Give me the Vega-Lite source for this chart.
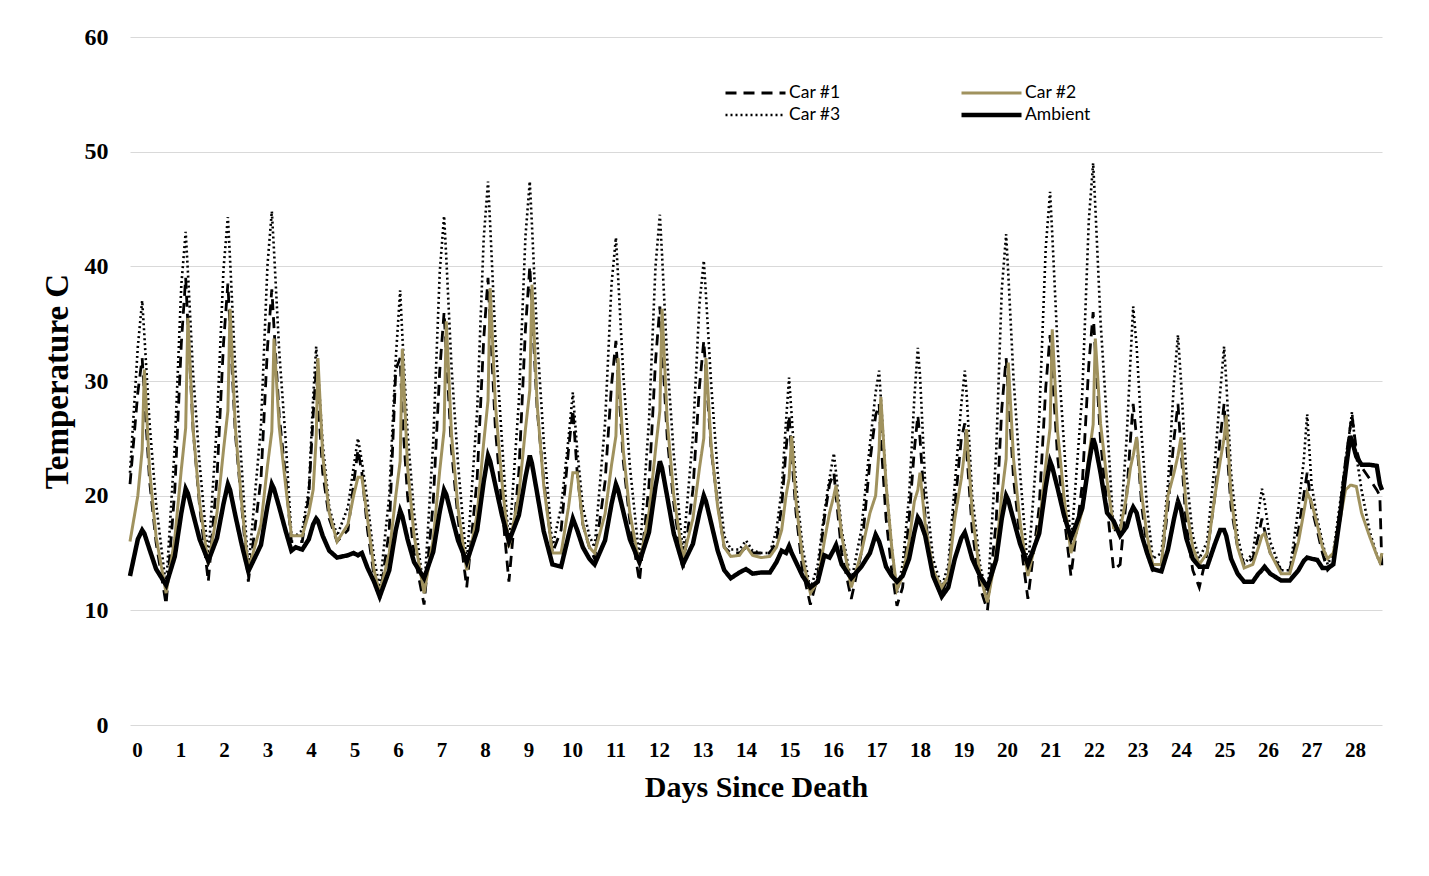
{
"$schema": "https://vega.github.io/schema/vega-lite/v6.json",
"width": 1252, "height": 688,
"autosize": {"type": "none"},
"padding": {"left": 130, "top": 37, "right": 47, "bottom": 151},
"background": "white",
"config": {"view": {"stroke": null}},
"data": {"values": [
{"d":-0.16,"c1":21,"c2":16,"c3":22,"a":13},
{"d":0.02,"c1":29,"c2":20,"c3":33,"a":16.2},
{"d":0.12,"c1":32,"c2":24,"c3":37,"a":17},
{"d":0.17,"c1":28.8,"c2":31,"c3":34,"a":16.7},
{"d":0.29,"c1":21.3,"c2":22.2,"c3":26.3,"a":15.3},
{"d":0.44,"c1":15.9,"c2":16.4,"c3":19.3,"a":13.6},
{"d":0.67,"c1":10.5,"c2":11.5,"c3":12,"a":12.2},
{"d":0.87,"c1":20.5,"c2":16.3,"c3":24.4,"a":14.7},
{"d":1.02,"c1":33.3,"c2":22.3,"c3":38.4,"a":18.5},
{"d":1.12,"c1":39,"c2":25.9,"c3":43,"a":20.6},
{"d":1.17,"c1":35,"c2":35.5,"c3":39.6,"a":20.2},
{"d":1.29,"c1":25.8,"c2":25.8,"c3":30.7,"a":18.4},
{"d":1.44,"c1":19.1,"c2":19.4,"c3":22.8,"a":16.2},
{"d":1.64,"c1":12.5,"c2":14,"c3":14.5,"a":14.3},
{"d":1.84,"c1":21.6,"c2":18.5,"c3":26.4,"a":16.3},
{"d":1.99,"c1":33.3,"c2":24,"c3":39.8,"a":19.3},
{"d":2.09,"c1":38.5,"c2":27.4,"c3":44.3,"a":21},
{"d":2.14,"c1":34.6,"c2":36.3,"c3":40.6,"a":20.5},
{"d":2.26,"c1":25.5,"c2":26,"c3":31.1,"a":18.3},
{"d":2.41,"c1":19,"c2":19.2,"c3":22.4,"a":15.7},
{"d":2.56,"c1":12.5,"c2":13.5,"c3":13.5,"a":13.4},
{"d":2.85,"c1":21.4,"c2":17.5,"c3":26,"a":15.7},
{"d":3.0,"c1":32.9,"c2":22.6,"c3":40.1,"a":19.1},
{"d":3.1,"c1":38,"c2":25.6,"c3":44.8,"a":21},
{"d":3.15,"c1":34.7,"c2":33.7,"c3":41.4,"a":20.6},
{"d":3.27,"c1":27,"c2":26,"c3":32.6,"a":19},
{"d":3.42,"c1":21.5,"c2":20.8,"c3":24.7,"a":16.9},
{"d":3.55,"c1":16,"c2":16.5,"c3":16.5,"a":15.2},
{"d":3.65,"c1":16,"c2":16.5,"c3":16.5,"a":15.5},
{"d":3.8,"c1":16,"c2":16.5,"c3":17,"a":15.3},
{"d":3.95,"c1":20,"c2":18.5,"c3":20.5,"a":16.2},
{"d":4.05,"c1":27,"c2":20.5,"c3":28.5,"a":17.5},
{"d":4.12,"c1":31,"c2":25,"c3":33,"a":18},
{"d":4.16,"c1":28.5,"c2":32,"c3":31,"a":17.8},
{"d":4.27,"c1":22,"c2":23.5,"c3":24.5,"a":16.5},
{"d":4.42,"c1":18,"c2":18.5,"c3":19,"a":15.2},
{"d":4.6,"c1":16,"c2":16,"c3":16.5,"a":14.6},
{"d":4.85,"c1":17,"c2":17.5,"c3":19,"a":14.8},
{"d":4.98,"c1":21,"c2":20,"c3":22.5,"a":15},
{"d":5.08,"c1":24,"c2":21.6,"c3":25,"a":14.8},
{"d":5.17,"c1":22,"c2":21.6,"c3":23,"a":15},
{"d":5.3,"c1":17,"c2":18,"c3":19.5,"a":13.7},
{"d":5.45,"c1":13,"c2":13.5,"c3":14.5,"a":12.5},
{"d":5.58,"c1":11,"c2":11.5,"c3":12,"a":11.2},
{"d":5.8,"c1":17,"c2":15,"c3":20,"a":13.5},
{"d":5.95,"c1":31,"c2":20,"c3":32,"a":17},
{"d":6.05,"c1":32,"c2":23,"c3":37.9,"a":18.7},
{"d":6.1,"c1":27,"c2":32.8,"c3":34,"a":18.2},
{"d":6.22,"c1":20,"c2":22.5,"c3":25.5,"a":16.2},
{"d":6.37,"c1":15,"c2":16.5,"c3":18.5,"a":14.2},
{"d":6.6,"c1":10.5,"c2":11.5,"c3":11.5,"a":12.8},
{"d":6.81,"c1":19.4,"c2":16.2,"c3":24.7,"a":15.1},
{"d":6.96,"c1":30.9,"c2":22.2,"c3":39.5,"a":18.6},
{"d":7.06,"c1":36,"c2":25.7,"c3":44.4,"a":20.5},
{"d":7.11,"c1":32.4,"c2":35.2,"c3":40.8,"a":20.1},
{"d":7.23,"c1":24,"c2":25.4,"c3":31.3,"a":18.3},
{"d":7.38,"c1":18,"c2":18.9,"c3":22.8,"a":16.1},
{"d":7.58,"c1":12,"c2":13.5,"c3":14,"a":14.2},
{"d":7.82,"c1":21.5,"c2":18.4,"c3":27.4,"a":17},
{"d":7.97,"c1":33.6,"c2":24.6,"c3":42.4,"a":21.2},
{"d":8.07,"c1":39,"c2":28.3,"c3":47.4,"a":23.5},
{"d":8.12,"c1":35,"c2":38.1,"c3":43.6,"a":23},
{"d":8.24,"c1":25.8,"c2":27.9,"c3":33.7,"a":20.9},
{"d":8.39,"c1":19.1,"c2":21.2,"c3":24.8,"a":18.3},
{"d":8.55,"c1":12.5,"c2":15.5,"c3":15.5,"a":16},
{"d":8.78,"c1":22.1,"c2":20.1,"c3":28.3,"a":18.3},
{"d":8.93,"c1":34.5,"c2":25.8,"c3":42.6,"a":21.6},
{"d":9.03,"c1":40,"c2":29.2,"c3":47.4,"a":23.5},
{"d":9.08,"c1":36.3,"c2":38.4,"c3":43.6,"a":22.8},
{"d":9.2,"c1":27.5,"c2":27.9,"c3":33.7,"a":20.2},
{"d":9.35,"c1":21.3,"c2":20.9,"c3":24.8,"a":16.9},
{"d":9.55,"c1":15,"c2":15,"c3":15.5,"a":14},
{"d":9.75,"c1":17,"c2":15,"c3":19,"a":13.8},
{"d":9.92,"c1":24,"c2":19,"c3":25,"a":16.5},
{"d":10.02,"c1":27.5,"c2":22,"c3":29,"a":18},
{"d":10.12,"c1":22,"c2":22,"c3":24,"a":17},
{"d":10.25,"c1":17.5,"c2":17.5,"c3":19,"a":15.5},
{"d":10.4,"c1":15.5,"c2":15.5,"c3":16.5,"a":14.5},
{"d":10.52,"c1":14.5,"c2":15,"c3":15.5,"a":14},
{"d":10.76,"c1":21.2,"c2":18.4,"c3":26.3,"a":16.1},
{"d":10.91,"c1":29.7,"c2":22.7,"c3":38.5,"a":19.3},
{"d":11.01,"c1":33.5,"c2":25.2,"c3":42.5,"a":21},
{"d":11.06,"c1":30.4,"c2":32,"c3":39.1,"a":20.5},
{"d":11.18,"c1":23,"c2":23.9,"c3":30.5,"a":18.6},
{"d":11.33,"c1":17.8,"c2":18.5,"c3":22.6,"a":16.2},
{"d":11.55,"c1":12.5,"c2":14,"c3":14.5,"a":14.2},
{"d":11.77,"c1":20.9,"c2":18.5,"c3":26.5,"a":16.8},
{"d":11.92,"c1":31.7,"c2":24,"c3":40,"a":20.8},
{"d":12.02,"c1":36.5,"c2":27.4,"c3":44.5,"a":23},
{"d":12.07,"c1":33.1,"c2":36.3,"c3":41,"a":22.4},
{"d":12.19,"c1":25,"c2":26.5,"c3":31.8,"a":19.9},
{"d":12.34,"c1":19.3,"c2":20,"c3":23.6,"a":16.7},
{"d":12.55,"c1":13.5,"c2":14.5,"c3":15,"a":14},
{"d":12.78,"c1":20.5,"c2":18,"c3":25.2,"a":15.8},
{"d":12.93,"c1":29.5,"c2":22.4,"c3":36.7,"a":18.5},
{"d":13.03,"c1":33.5,"c2":25,"c3":40.5,"a":20},
{"d":13.08,"c1":30.7,"c2":32,"c3":37.5,"a":19.5},
{"d":13.2,"c1":24,"c2":24.3,"c3":29.7,"a":17.6},
{"d":13.35,"c1":19.3,"c2":19,"c3":22,"a":15.2},
{"d":13.5,"c1":15.5,"c2":15.5,"c3":16.5,"a":13.5},
{"d":13.65,"c1":15,"c2":14.7,"c3":15.3,"a":12.8},
{"d":13.85,"c1":15,"c2":14.8,"c3":15.3,"a":13.3},
{"d":14.0,"c1":15.5,"c2":15.6,"c3":16.1,"a":13.6},
{"d":14.15,"c1":15,"c2":14.8,"c3":15.2,"a":13.2},
{"d":14.35,"c1":15,"c2":14.6,"c3":15,"a":13.3},
{"d":14.55,"c1":15,"c2":14.7,"c3":15,"a":13.3},
{"d":14.7,"c1":16,"c2":15.5,"c3":17,"a":14.2},
{"d":14.82,"c1":19,"c2":17,"c3":20.5,"a":15.2},
{"d":14.92,"c1":24,"c2":20,"c3":26.5,"a":15},
{"d":14.99,"c1":27,"c2":21.5,"c3":30.3,"a":15.6},
{"d":15.05,"c1":23.5,"c2":25.2,"c3":27,"a":15},
{"d":15.15,"c1":18.5,"c2":19.5,"c3":21,"a":14.2},
{"d":15.3,"c1":13.5,"c2":14.5,"c3":15.5,"a":13},
{"d":15.48,"c1":10.5,"c2":11.5,"c3":11.8,"a":12},
{"d":15.65,"c1":13,"c2":12.5,"c3":14,"a":12.5},
{"d":15.8,"c1":18,"c2":16,"c3":18.5,"a":14.8},
{"d":15.92,"c1":21,"c2":18.5,"c3":21.5,"a":14.6},
{"d":16.02,"c1":22,"c2":20,"c3":23.7,"a":15.3},
{"d":16.07,"c1":20,"c2":20.9,"c3":22,"a":15.7},
{"d":16.2,"c1":15,"c2":16.5,"c3":17,"a":14},
{"d":16.42,"c1":11,"c2":12,"c3":12.5,"a":12.8},
{"d":16.65,"c1":15,"c2":15,"c3":17,"a":13.8},
{"d":16.85,"c1":23,"c2":18.5,"c3":24.5,"a":15},
{"d":16.98,"c1":27,"c2":20,"c3":29,"a":16.6},
{"d":17.06,"c1":28,"c2":24,"c3":30.9,"a":16},
{"d":17.1,"c1":25,"c2":28.6,"c3":28.5,"a":15.5},
{"d":17.22,"c1":18,"c2":21,"c3":21,"a":13.8},
{"d":17.35,"c1":13.5,"c2":15.5,"c3":15.5,"a":13},
{"d":17.47,"c1":10.4,"c2":11.8,"c3":11.5,"a":12.5},
{"d":17.6,"c1":12,"c2":13,"c3":14,"a":13},
{"d":17.75,"c1":18,"c2":16,"c3":20,"a":14.5},
{"d":17.87,"c1":24,"c2":19.5,"c3":28.5,"a":16.8},
{"d":17.95,"c1":27,"c2":20.5,"c3":32.9,"a":18.1},
{"d":18.0,"c1":25,"c2":22,"c3":30.5,"a":17.8},
{"d":18.12,"c1":18,"c2":17.5,"c3":21,"a":16.5},
{"d":18.3,"c1":13,"c2":13.5,"c3":14.5,"a":13},
{"d":18.5,"c1":11.5,"c2":12,"c3":12,"a":11.2},
{"d":18.65,"c1":13,"c2":13,"c3":14,"a":12},
{"d":18.8,"c1":19,"c2":18,"c3":21,"a":14.5},
{"d":18.95,"c1":25,"c2":21.5,"c3":28,"a":16.3},
{"d":19.03,"c1":26.3,"c2":24,"c3":30.9,"a":16.8},
{"d":19.07,"c1":24,"c2":25.8,"c3":29,"a":16.3},
{"d":19.2,"c1":17,"c2":18.5,"c3":20,"a":14.5},
{"d":19.38,"c1":12,"c2":13,"c3":14,"a":13},
{"d":19.55,"c1":10,"c2":10.7,"c3":11,"a":12},
{"d":19.75,"c1":17.7,"c2":14.9,"c3":23.7,"a":14.4},
{"d":19.88,"c1":27.6,"c2":20.1,"c3":38,"a":18},
{"d":19.98,"c1":32,"c2":23.2,"c3":42.8,"a":20},
{"d":20.03,"c1":28.9,"c2":31.6,"c3":39.3,"a":19.6},
{"d":20.15,"c1":21.5,"c2":23.2,"c3":30.2,"a":17.9},
{"d":20.3,"c1":16.3,"c2":17.7,"c3":22,"a":15.8},
{"d":20.48,"c1":11,"c2":13,"c3":13.5,"a":14},
{"d":20.74,"c1":19,"c2":17.3,"c3":26.7,"a":16.7},
{"d":20.89,"c1":29.4,"c2":22.7,"c3":41.6,"a":20.8},
{"d":20.99,"c1":34,"c2":25.9,"c3":46.5,"a":23},
{"d":21.04,"c1":30.9,"c2":34.5,"c3":42.8,"a":22.5},
{"d":21.16,"c1":23.5,"c2":25.7,"c3":33.2,"a":20.7},
{"d":21.31,"c1":18.3,"c2":19.9,"c3":24.5,"a":18.3},
{"d":21.47,"c1":13,"c2":15,"c3":15.5,"a":16.3},
{"d":21.73,"c1":21,"c2":18.7,"c3":28.9,"a":18.9},
{"d":21.88,"c1":31.4,"c2":23.4,"c3":44,"a":22.8},
{"d":21.98,"c1":36,"c2":26.2,"c3":49,"a":25},
{"d":22.03,"c1":32.6,"c2":33.7,"c3":45.2,"a":24.4},
{"d":22.15,"c1":24.8,"c2":26.3,"c3":35.2,"a":22},
{"d":22.3,"c1":19.1,"c2":21.3,"c3":26.3,"a":18.5},
{"d":22.45,"c1":13.5,"c2":17.2,"c3":17,"a":17.8},
{"d":22.6,"c1":14,"c2":17,"c3":17,"a":16.5},
{"d":22.75,"c1":20,"c2":20,"c3":25,"a":17.3},
{"d":22.84,"c1":25,"c2":22.5,"c3":32,"a":18.5},
{"d":22.9,"c1":28,"c2":23.5,"c3":36.5,"a":19},
{"d":22.98,"c1":25,"c2":25.1,"c3":33,"a":18.5},
{"d":23.1,"c1":19,"c2":20,"c3":25,"a":16.5},
{"d":23.22,"c1":15.5,"c2":16.5,"c3":19,"a":15},
{"d":23.35,"c1":13.5,"c2":14,"c3":14.5,"a":13.6},
{"d":23.55,"c1":14,"c2":14,"c3":15,"a":13.4},
{"d":23.7,"c1":19,"c2":20,"c3":21,"a":15.3},
{"d":23.84,"c1":25,"c2":22,"c3":30,"a":18},
{"d":23.93,"c1":28,"c2":23.5,"c3":34,"a":19.5},
{"d":24.0,"c1":24,"c2":25.1,"c3":30,"a":18.8},
{"d":24.12,"c1":17.5,"c2":19,"c3":22,"a":16.3},
{"d":24.27,"c1":13.5,"c2":15.5,"c3":16.5,"a":14.5},
{"d":24.42,"c1":12,"c2":14,"c3":14.5,"a":13.8},
{"d":24.6,"c1":15,"c2":15,"c3":16,"a":13.8},
{"d":24.78,"c1":20,"c2":20,"c3":23,"a":15.8},
{"d":24.9,"c1":25,"c2":23,"c3":29,"a":17},
{"d":24.99,"c1":28,"c2":25,"c3":33,"a":17},
{"d":25.04,"c1":25,"c2":27,"c3":30,"a":16.5},
{"d":25.15,"c1":19,"c2":20,"c3":22,"a":14.5},
{"d":25.3,"c1":15.5,"c2":15.5,"c3":16.5,"a":13.2},
{"d":25.45,"c1":14,"c2":13.7,"c3":14,"a":12.5},
{"d":25.65,"c1":14.5,"c2":14,"c3":15,"a":12.5},
{"d":25.78,"c1":16.5,"c2":15.5,"c3":18.5,"a":13.2},
{"d":25.86,"c1":18,"c2":16.5,"c3":20.6,"a":13.5},
{"d":25.92,"c1":17,"c2":16.7,"c3":19.5,"a":13.8},
{"d":26.05,"c1":15,"c2":15,"c3":16,"a":13.2},
{"d":26.3,"c1":13.5,"c2":13.2,"c3":13.5,"a":12.6},
{"d":26.5,"c1":13.5,"c2":13.2,"c3":13.5,"a":12.6},
{"d":26.7,"c1":17,"c2":16,"c3":19,"a":13.5},
{"d":26.82,"c1":20,"c2":18.5,"c3":23,"a":14.3},
{"d":26.9,"c1":22,"c2":20.3,"c3":27.1,"a":14.6},
{"d":27.0,"c1":19,"c2":19.4,"c3":21,"a":14.5},
{"d":27.13,"c1":17,"c2":17.5,"c3":18,"a":14.4},
{"d":27.25,"c1":15,"c2":15.5,"c3":16,"a":13.7},
{"d":27.37,"c1":13.5,"c2":14.5,"c3":14,"a":13.7},
{"d":27.5,"c1":14,"c2":15,"c3":15,"a":14},
{"d":27.66,"c1":19,"c2":18,"c3":19.5,"a":18.3},
{"d":27.78,"c1":23,"c2":20.5,"c3":23,"a":22},
{"d":27.89,"c1":26,"c2":20.9,"c3":26,"a":25.2},
{"d":27.93,"c1":27,"c2":20.9,"c3":27.3,"a":24.8},
{"d":28.03,"c1":24,"c2":20.8,"c3":23.5,"a":23.4},
{"d":28.15,"c1":22.5,"c2":18.5,"c3":20.5,"a":22.7},
{"d":28.33,"c1":21.5,"c2":16.5,"c3":17,"a":22.7},
{"d":28.5,"c1":20.5,"c2":14.8,"c3":14.8,"a":22.6},
{"d":28.57,"c1":20,"c2":14.2,"c3":14.2,"a":21},
{"d":28.62,"c1":13.5,"c2":15,"c3":14.5,"a":20.5}
]},
"transform": [{"fold": ["c1", "c2", "c3", "a"], "as": ["s", "t"]}],
"encoding": {
  "x": {"field": "d", "type": "quantitative",
    "scale": {"domain": [-0.16, 28.62], "nice": false, "zero": false},
    "axis": {"values": [0,1,2,3,4,5,6,7,8,9,10,11,12,13,14,15,16,17,18,19,20,21,22,23,24,25,26,27,28],
      "title": "Days Since Death", "grid": false, "domain": false, "ticks": false,
      "labelFont": "Liberation Serif", "labelFontWeight": "bold", "labelFontSize": 21, "labelColor": "#000000",
      "labelPadding": 14, "labelFlush": false, "labelOverlap": false,
      "titleFont": "Liberation Serif", "titleFontWeight": "bold", "titleFontSize": 30, "titleColor": "#000000", "titlePadding": 12}},
  "y": {"field": "t", "type": "quantitative",
    "scale": {"domain": [0, 60], "nice": false},
    "axis": {"values": [0,10,20,30,40,50,60], "title": "Temperature C", "grid": true, "gridColor": "#d9d9d9", "gridWidth": 1.2,
      "domain": false, "ticks": false,
      "labelFont": "Liberation Serif", "labelFontWeight": "bold", "labelFontSize": 24, "labelColor": "#000000", "labelPadding": 22,
      "titleFont": "Liberation Serif", "titleFontWeight": "bold", "titleFontSize": 33, "titleColor": "#000000", "titlePadding": 10}},
  "stroke": {"field": "s", "type": "nominal",
    "scale": {"domain": ["c1", "c3", "c2", "a"], "range": ["#000000", "#000000", "#a0925e", "#000000"]},
    "legend": {"title": null, "orient": "none", "legendX": 593, "legendY": 47, "columns": 2, "symbolType": "stroke", "symbolSize": 3600, "clipHeight": 18,
      "labelFont": "Lato", "labelFontSize": 17.5, "labelColor": "#000000", "labelOffset": 1, "columnPadding": 118, "rowPadding": 4,
      "labelExpr": "datum.label == 'c1' ? 'Car #1' : datum.label == 'c2' ? 'Car #2' : datum.label == 'c3' ? 'Car #3' : 'Ambient'"}},
  "strokeDash": {"field": "s", "type": "nominal",
    "scale": {"domain": ["c1", "c3", "c2", "a"], "range": [[11, 7], [2, 3], [1, 0], [1, 0]]},
    "legend": {"title": null, "orient": "none", "legendX": 593, "legendY": 47, "columns": 2, "symbolType": "stroke", "symbolSize": 3600, "clipHeight": 18,
      "labelFont": "Lato", "labelFontSize": 17.5, "labelColor": "#000000", "labelOffset": 1, "columnPadding": 118, "rowPadding": 4,
      "labelExpr": "datum.label == 'c1' ? 'Car #1' : datum.label == 'c2' ? 'Car #2' : datum.label == 'c3' ? 'Car #3' : 'Ambient'"}},
  "strokeWidth": {"field": "s", "type": "nominal",
    "scale": {"type": "ordinal", "domain": ["c1", "c3", "c2", "a"], "range": [2.8, 2.6, 3, 4.5]},
    "legend": {"title": null, "orient": "none", "legendX": 593, "legendY": 47, "columns": 2, "symbolType": "stroke", "symbolSize": 3600, "clipHeight": 18,
      "labelFont": "Lato", "labelFontSize": 17.5, "labelColor": "#000000", "labelOffset": 1, "columnPadding": 118, "rowPadding": 4,
      "labelExpr": "datum.label == 'c1' ? 'Car #1' : datum.label == 'c2' ? 'Car #2' : datum.label == 'c3' ? 'Car #3' : 'Ambient'"}}
},
"layer": [
  {"transform": [{"filter": "datum.s == 'c1'"}], "mark": {"type": "line"}},
  {"transform": [{"filter": "datum.s == 'c3'"}], "mark": {"type": "line"}},
  {"transform": [{"filter": "datum.s == 'c2'"}], "mark": {"type": "line"}},
  {"transform": [{"filter": "datum.s == 'a'"}], "mark": {"type": "line"}}
]
}
